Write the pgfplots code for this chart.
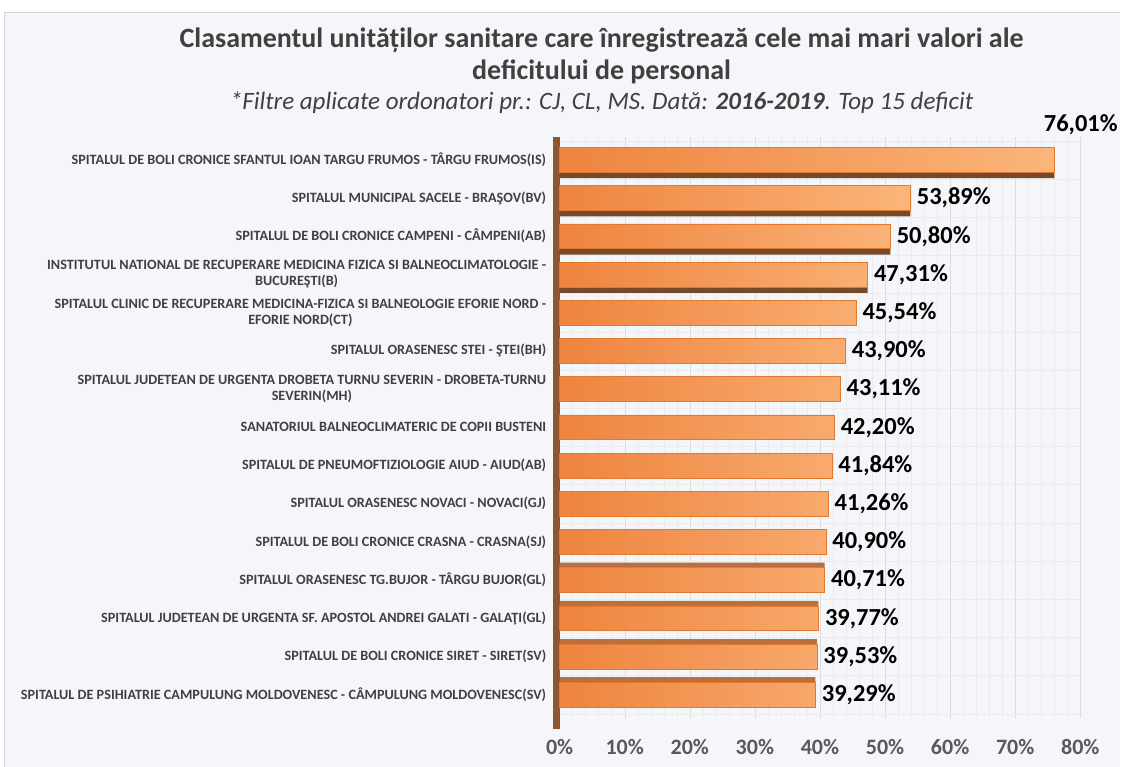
\documentclass[border=0pt]{standalone}
\usepackage{fontspec}
\setmainfont{Carlito}
\usepackage{pgfplots}
\pgfplotsset{compat=1.18}
\definecolor{bg}{HTML}{F5F6FA}
\definecolor{frame}{HTML}{D4D4D4}
\definecolor{txt}{HTML}{404040}
\definecolor{ticktxt}{HTML}{595959}
\definecolor{barL}{HTML}{EE843F}
\definecolor{barR}{HTML}{FBB57A}
\definecolor{barEdge}{HTML}{E3782F}
\definecolor{shadeTop}{HTML}{754A2B}
\definecolor{shadeBot}{HTML}{B8703F}
\definecolor{wall}{HTML}{8E5631}
\definecolor{gridMaj}{HTML}{DCDCDC}
\definecolor{gridMin}{HTML}{EBEBEE}

\begin{document}
\begin{tikzpicture}
\fill[white] (0pt,0pt) rectangle (1121pt,767pt);
\fill[bg] (4pt,0pt) rectangle (1121pt,755pt);
\draw[frame] (4.5pt,0pt) -- (4.5pt,754.5pt) -- (1121pt,754.5pt);

\node[txt,font=\fontsize{28}{32}\selectfont\bfseries] at (602pt,727pt)
  {Clasamentul unităților sanitare care înregistrează cele mai mari valori ale};
\node[txt,font=\fontsize{28}{32}\selectfont\bfseries] at (602pt,695pt)
  {deficitului de personal};
\node[txt,font=\fontsize{25}{29}\selectfont\itshape] at (602pt,664pt)
  {*Filtre aplicate ordonatori pr.: CJ, CL, MS. Dată: \textbf{2016-2019}. Top 15 deficit};

\begin{axis}[
  at={(560pt,49pt)}, anchor=south west,
  scale only axis, width=521pt, height=581pt,
  xmin=0, xmax=80, ymin=-0.6, ymax=14.6,
  /pgf/number format/assume math mode=true,
  xtick={0,10,...,80}, minor x tick num=4,
  xticklabel={\pgfmathprintnumber{\tick}\%},
  x tick label style={font=\fontsize{22}{24}\selectfont\bfseries, text=ticktxt, yshift=-18pt},
  ytick={0,...,14},
  yticklabels={
    {SPITALUL DE PSIHIATRIE CAMPULUNG MOLDOVENESC - CÂMPULUNG MOLDOVENESC(SV)},
    {SPITALUL DE BOLI CRONICE SIRET - SIRET(SV)},
    {SPITALUL JUDETEAN DE URGENTA SF. APOSTOL ANDREI GALATI - GALAŢI(GL)},
    {SPITALUL ORASENESC TG.BUJOR - TÂRGU BUJOR(GL)},
    {SPITALUL DE BOLI CRONICE CRASNA - CRASNA(SJ)},
    {SPITALUL ORASENESC NOVACI - NOVACI(GJ)},
    {SPITALUL DE PNEUMOFTIZIOLOGIE AIUD - AIUD(AB)},
    {SANATORIUL BALNEOCLIMATERIC DE COPII BUSTENI},
    {SPITALUL JUDETEAN DE URGENTA DROBETA TURNU SEVERIN - DROBETA-TURNU\\SEVERIN(MH)},
    {SPITALUL ORASENESC STEI - ŞTEI(BH)},
    {SPITALUL CLINIC DE RECUPERARE MEDICINA-FIZICA SI BALNEOLOGIE EFORIE NORD -\\EFORIE NORD(CT)},
    {INSTITUTUL NATIONAL DE RECUPERARE MEDICINA FIZICA SI BALNEOCLIMATOLOGIE -\\BUCUREŞTI(B)},
    {SPITALUL DE BOLI CRONICE CAMPENI - CÂMPENI(AB)},
    {SPITALUL MUNICIPAL SACELE - BRAŞOV(BV)},
    {SPITALUL DE BOLI CRONICE SFANTUL IOAN TARGU FRUMOS - TÂRGU FRUMOS(IS)}},
  y tick label style={font=\fontsize{14.2}{16}\selectfont\bfseries, text=txt, align=center, xshift=-10pt},
  minor ytick={-0.5,0.5,...,14.5},
  xmajorgrids, xminorgrids, yminorgrids,
  major grid style={gridMaj}, minor grid style={gridMin},
  axis line style={draw=none}, tick style={draw=none},
  clip=false,
  nodes near coords={\pgfmathprintnumber[fixed,fixed zerofill,precision=2,use comma]{\pgfplotspointmeta}\%},
  nodes near coords style={font=\fontsize{24.5}{28}\selectfont\bfseries, text=black, xshift=3pt},
]
\fill[wall] ([xshift=-7pt]rel axis cs:0,-0.02) rectangle (rel axis cs:0,1);
% dark bar faces (3D depth)
\addplot[xbar, bar width=0.65, bar shift=-6pt, fill=shadeTop, draw=none, nodes near coords={}]
  coordinates {(76.01,14) (53.89,13) (50.80,12) (47.31,11)};
\addplot[xbar, bar width=0.65, bar shift=5pt, fill=shadeBot, draw=none, nodes near coords={}]
  coordinates {(40.71,3) (39.77,2) (39.53,1) (39.29,0)};
% bars
\addplot[xbar, bar width=0.65, bar shift=0pt, left color=barL, right color=barR, draw=barEdge, point meta=x]
  coordinates {(53.89,13) (50.80,12) (47.31,11) (45.54,10) (43.90,9) (43.11,8) (42.20,7)
    (41.84,6) (41.26,5) (40.90,4) (40.71,3) (39.77,2) (39.53,1) (39.29,0)};
\addplot[xbar, bar width=0.65, bar shift=0pt, left color=barL, right color=barR, draw=barEdge, point meta=x,
  every node near coord/.append style={xshift=-17pt, yshift=35pt}]
  coordinates {(76.01,14)};
\end{axis}
\end{tikzpicture}
\end{document}
